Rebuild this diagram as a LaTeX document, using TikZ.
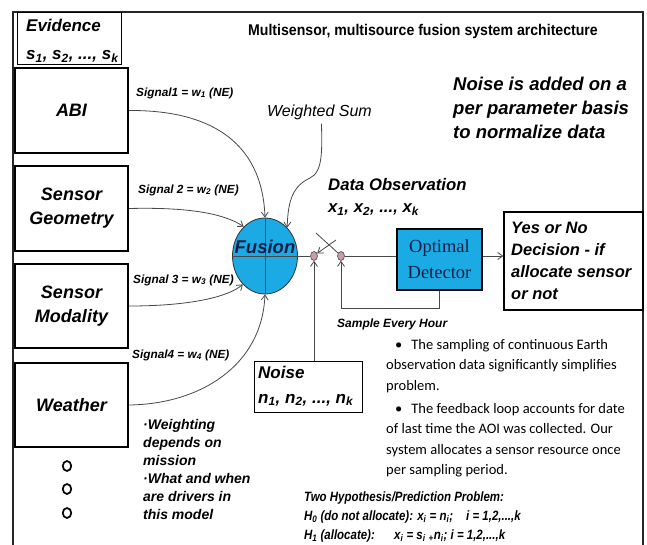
\documentclass[tikz,border=0pt]{standalone}
\usepackage{fontspec}
\setmainfont{Liberation Sans}
\newfontfamily\calfont{Carlito}
\newfontfamily\serfont{Liberation Serif}
\newfontfamily\narrowfont[FakeStretch=0.91]{Liberation Sans}
\newfontfamily\condfont[FakeStretch=0.85]{Liberation Sans}
\usetikzlibrary{arrows.meta,shapes.geometric}

\definecolor{fusionblue}{RGB}{27,170,228}
\definecolor{dotpink}{RGB}{200,158,166}
\definecolor{linegray}{RGB}{72,72,72}
\definecolor{detink}{RGB}{20,30,70}

\newcommand\fsz[2]{\fontsize{#1}{#2}\selectfont}
\newcommand\sub[1]{\textsubscript{#1}}

\begin{document}
\begin{tikzpicture}[x=1pt,y=-1pt,
  txt/.style={inner sep=0pt, align=left},
  srcbox/.style={draw, line width=2.2pt, minimum width=113pt, inner sep=0pt,
    align=center, font=\bfseries\itshape\fsz{18}{24}},
  thinbox/.style={draw, line width=0.9pt, inner sep=0pt},
  line/.style={draw=linegray, line width=0.8pt},
  conn/.style={line, -{Straight Barb[length=5pt,width=7pt]}},
  swdot/.style={ellipse, draw=linegray, fill=dotpink, line width=0.6pt,
    minimum width=7pt, minimum height=9pt, inner sep=0pt},
  more/.style={ellipse, draw, line width=1.7pt, minimum width=8.5pt,
    minimum height=10pt, inner sep=0pt},
  siglabel/.style={txt, anchor=west, font=\bfseries\itshape\fsz{11.8}{14}}]

\useasboundingbox (0,0) rectangle (647,545);
\clip (0,0) rectangle (647,545);

% outer frame (open at the bottom)
\draw[line width=1.4pt, draw=black!85] (13,560) -- (13,12) -- (643,12) -- (643,560);

% title
\node[txt, font=\narrowfont\bfseries\fsz{15.5}{18}] (title) at (423,31)
  {Multisensor, multisource fusion system architecture};

% evidence header
\node[thinbox, minimum width=104pt, minimum height=52pt] (evid) at (69,38) {};
\node[txt, anchor=west, font=\bfseries\itshape\fsz{17}{28}] (evidtext) at (26,41)
  {Evidence\\s\sub{1}, s\sub{2}, ..., s\sub{k}};

% sources
\node[srcbox, minimum height=85pt] (abi) at (71.5,110.5) {ABI};
\node[srcbox, minimum height=85pt] (geo) at (71.5,208.5) {Sensor\\Geometry};
\node[srcbox, minimum height=84pt] (mod) at (71.5,306) {Sensor\\Modality};
\node[srcbox, minimum height=84pt] (wea) at (71.5,405) {Weather};

\node[more] (more1) at (67,466) {};
\node[more] (more2) at (67,489) {};
\node[more] (more3) at (67,513) {};

% fusion node
\node[ellipse, draw=black!80, fill=fusionblue, line width=0.8pt,
  minimum width=65pt, minimum height=76pt, inner sep=0pt] (fusion) at (265,256) {};
\draw[line] (fusion.north) -- (fusion.south);
\node[inner sep=0pt, anchor=base, text=detink, font=\bfseries\itshape\fsz{18.5}{20}]
  (fusiontext) at (265,253.5) {Fusion};

% weighted inputs
\draw[conn] (abi.east) .. controls (205,110) and (262,138) .. (fusion.north);
\draw[conn] (geo.east) .. controls (190,207) and (225,214) .. (fusion.126);
\draw[conn] (mod.east) .. controls (190,306) and (228,297) .. (fusion.232);
\draw[conn] (wea.east) .. controls (200,404) and (262,366) .. (fusion.south);

\node[siglabel] (sig1) at (136,93) {Signal1 = w\sub{1} (NE)};
\node[siglabel] (sig2) at (138,190) {Signal 2 = w\sub{2} (NE)};
\node[siglabel] (sig3) at (133,280) {Signal 3 = w\sub{3} (NE)};
\node[siglabel] (sig4) at (132,355) {Signal4 = w\sub{4} (NE)};

% weighted sum annotation
\node[txt, font=\itshape\fsz{16}{18}] (ws) at (319.5,112) {Weighted Sum};
\draw[conn] ([xshift=2pt,yshift=-4pt]ws.south) .. controls (322,150) and (323,172) .. (310,178)
  .. controls (293,186) and (288,200) .. (fusion.52);

% sampling switch
\node[swdot] (d1) at (314,256) {};
\node[swdot] (d2) at (341,256) {};
\draw[line] (fusion.west) -- (d1.west);
\coordinate (lever) at (316,233);
\draw[line] (lever) -- (d2.135);
\coordinate (swtip) at (336,240);
\draw[conn] (swtip) -- (d1.40);

\node[txt, anchor=west, font=\bfseries\itshape\fsz{16.7}{22}] (obs) at (328,197)
  {Data Observation\\x\sub{1}, x\sub{2}, ..., x\sub{k}};

% detector
\node[draw, line width=2pt, fill=fusionblue, minimum width=85pt, minimum height=61pt,
  inner sep=0pt, align=center, text=detink, font=\serfont\fsz{18.5}{26}]
  (det) at (439.5,259.5) {Optimal\\Detector};
\draw[line] (d2.east) -- (d2.east -| det.west);

% decision
\node[draw, line width=1.3pt, minimum width=139pt, minimum height=98pt, inner sep=0pt]
  (dec) at (573.5,261) {};
\node[txt, anchor=west, font=\bfseries\itshape\fsz{16.5}{21.8}] (dectext) at (511,261)
  {Yes or No\\Decision - if\\allocate sensor\\or not};
\draw[conn] (det.east |- d2) -- (dec.west |- d2);

% feedback loop
\draw[conn] (det.south) -- ++(0,17) -| (d2.south);
\node[txt, anchor=west, font=\bfseries\itshape\fsz{12}{14}] (hour) at (337,324)
  {Sample Every Hour};

% noise
\node[thinbox, minimum width=108pt, minimum height=51pt] (noise) at (308,386.5) {};
\node[txt, anchor=west, font=\bfseries\itshape\fsz{17}{25}] (noisetext) at (258,386)
  {Noise\\n\sub{1}, n\sub{2}, ..., n\sub{k}};
\draw[conn] (noise.north -| d1.south) -- (d1.south);

% notes
\node[txt, anchor=west, font=\bfseries\itshape\fsz{18.5}{24}] (noisenote) at (453,108)
  {Noise is added on a\\per parameter basis\\to normalize data};

\node[txt, anchor=west, font=\bfseries\itshape\fsz{14}{18}] (weightnote) at (143,469)
  {·Weighting\\depends on\\mission\\·What and when\\are drivers in\\this model};

\node[txt, anchor=west, font=\calfont\fsz{14.5}{20.5}] (bullets) at (386,408)
  {\hspace*{9pt}•\hspace{9pt}The sampling of continuous Earth\\
   observation data significantly simplifies\\
   problem.\\[2.5pt]
   \hspace*{9pt}•\hspace{9pt}The feedback loop accounts for date\\
   of last time the AOI was collected. Our\\
   system allocates a sensor resource once\\
   per sampling period.};

\node[txt, anchor=west, font=\condfont\bfseries\itshape\fsz{13.5}{19}] (hyp) at (304,517)
  {Two Hypothesis/Prediction Problem:\\
   \makebox[162pt][l]{H\sub{0} (do not allocate): x\sub{i} = n\sub{i};}i = 1,2,...,k\\
   \makebox[90pt][l]{H\sub{1} (allocate):}x\sub{i} = s\sub{i} \sub{+}n\sub{i}; i = 1,2,...,k};

\end{tikzpicture}
\end{document}
